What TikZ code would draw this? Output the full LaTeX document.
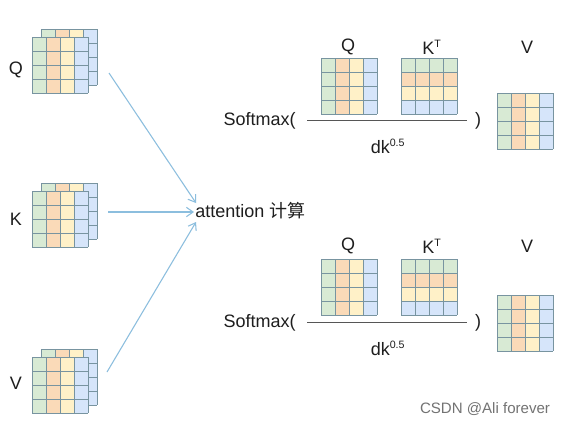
\documentclass[tikz,border=0pt]{standalone}
\usepackage{fontspec}
\setmainfont{Liberation Sans}
\newfontfamily\cjk{Noto Sans CJK SC}
\usetikzlibrary{arrows.meta}
\definecolor{cg}{RGB}{216,234,212}
\definecolor{co}{RGB}{250,218,184}
\definecolor{cy}{RGB}{255,241,200}
\definecolor{cb}{RGB}{214,229,250}
\definecolor{grid}{RGB}{120,148,160}
\definecolor{arr}{RGB}{140,190,222}
\definecolor{txt}{RGB}{30,30,30}
\tikzset{
  lbl/.style={text=txt,font=\fontsize{13.5}{15}\selectfont,inner sep=0pt},
  feed/.style={draw=arr,line width=0.8pt,-{Straight Barb[length=5pt,width=7pt]}},
  frac/.style={draw=txt!75,line width=0.7pt},
  gridline/.style={draw=grid,line width=0.7pt}
}
% column-coloured 4x4 matrix, top-left (#1,#2)
\newcommand\colmat[2]{%
  \fill[cg] (#1,#2) rectangle ++(14,56);
  \fill[co] (#1+14,#2) rectangle ++(14,56);
  \fill[cy] (#1+28,#2) rectangle ++(14,56);
  \fill[cb] (#1+42,#2) rectangle ++(14,56);
  \foreach \k in {0,14,28,42,56}{
    \draw[gridline] (#1+\k,#2) -- ++(0,56);
    \draw[gridline] (#1,#2+\k) -- ++(56,0);}
}
% row-coloured 4x4 matrix
\newcommand\rowmat[2]{%
  \fill[cg] (#1,#2) rectangle ++(56,14);
  \fill[co] (#1,#2+14) rectangle ++(56,14);
  \fill[cy] (#1,#2+28) rectangle ++(56,14);
  \fill[cb] (#1,#2+42) rectangle ++(56,14);
  \foreach \k in {0,14,28,42,56}{
    \draw[gridline] (#1+\k,#2) -- ++(0,56);
    \draw[gridline] (#1,#2+\k) -- ++(56,0);}
}
\newcommand\stackmat[2]{\colmat{#1+9}{#2-8}\colmat{#1}{#2}}
\begin{document}
\begin{tikzpicture}[x=0.75pt,y=-0.75pt]
\useasboundingbox (0,0) rectangle (567,426);
\fill[white] (0,0) rectangle (567,426);
% left stacks
\stackmat{32}{37}
\stackmat{32}{191}
\stackmat{32}{357}
\node[lbl] (lq) at (16,70) {Q};
\node[lbl] (lk) at (16,219) {K};
\node[lbl] (lv) at (16,383) {V};
% attention
\node[lbl,anchor=west] (att) at (195,211) {attention {\cjk 计算}};
\coordinate (qs) at (109,73);
\coordinate (ks) at (108,212);
\coordinate (vs) at (107,372);
\coordinate (qt) at (196,203);
\coordinate (kt) at (194,212);
\coordinate (vt) at (196,222);
\draw[feed] (qs) -- (qt);
\draw[feed] (ks) -- (kt);
\draw[feed] (vs) -- (vt);
% top formula
\colmat{321}{58}
\rowmat{401}{58}
\colmat{497}{93}
\node[lbl] (tq) at (348,47) {Q};
\node[lbl] (tk) at (432,47) {K\textsuperscript{\fontsize{8}{9}\selectfont T}};
\node[lbl] (tv) at (527,47) {V};
\node[lbl,anchor=east] (ts) at (296,121) {Softmax(};
\coordinate (tf1) at (307,120);
\coordinate (tf2) at (467,120);
\draw[frac] (tf1) -- (tf2);
\node[lbl] (tc) at (478,121) {)};
\node[lbl] (td) at (388,146) {dk\textsuperscript{\fontsize{8}{9}\selectfont 0.5}};
% bottom formula
\colmat{321}{259}
\rowmat{401}{259}
\colmat{497}{295}
\node[lbl] (bq) at (348,246) {Q};
\node[lbl] (bk) at (432,246) {K\textsuperscript{\fontsize{8}{9}\selectfont T}};
\node[lbl] (bv) at (527,246) {V};
\node[lbl,anchor=east] (bs) at (296,323) {Softmax(};
\coordinate (bf1) at (307,322);
\coordinate (bf2) at (467,322);
\draw[frac] (bf1) -- (bf2);
\node[lbl] (bc) at (478,323) {)};
\node[lbl] (bd) at (388,348) {dk\textsuperscript{\fontsize{8}{9}\selectfont 0.5}};
% watermark
\node[text=black!55,font=\fontsize{11.3}{13}\selectfont,inner sep=0pt] (wm) at (485,409) {CSDN @Ali forever};
\end{tikzpicture}
\end{document}
